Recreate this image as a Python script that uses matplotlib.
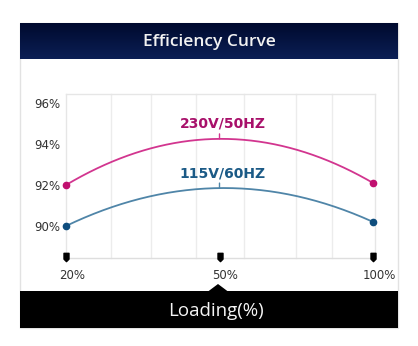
import numpy as np
import matplotlib
matplotlib.use("Agg")
import matplotlib.pyplot as plt
from matplotlib.path import Path
from matplotlib.patches import Rectangle, Polygon
from matplotlib.transforms import ScaledTranslation
from matplotlib.colors import LinearSegmentedColormap

# ---- data ----
load_labels = ["20%", "50%", "100%"]
eff_230 = [92.0, 94.25, 92.1]
eff_115 = [90.0, 91.85, 90.2]
series_names = ["230V/50HZ", "115V/60HZ"]
y_ticks = [90, 92, 94, 96]
title = "Efficiency Curve"
xlabel = "Loading(%)"

W, H = 418, 346
fig = plt.figure(figsize=(W / 100, H / 100), dpi=100)
fig.patch.set_facecolor("white")

# background / frame in pixel coordinates
bg = fig.add_axes([0, 0, 1, 1], zorder=0)
bg.set_xlim(0, W)
bg.set_ylim(H, 0)
bg.axis("off")

L, R, T, B = 20, 398, 23, 328
bg.add_patch(Rectangle((L, T), R - L, B - T, facecolor="white", edgecolor="#e2e2e2", lw=1))
# title bar gradient
grad = np.linspace(0, 1, 64).reshape(-1, 1)
cmap = LinearSegmentedColormap.from_list("nav", ["#000a2e", "#0b1f55"])
bg.imshow(grad, extent=(L, R, 59, T), cmap=cmap, aspect="auto", zorder=1)
bg.text((L + R) / 2, 41.5, title, color="#f2f2f2", ha="center", va="center",
        fontsize=12.5, fontweight="semibold", family=["Open Sans", "DejaVu Sans"], zorder=2)
# bottom bar
bg.add_patch(Rectangle((L, 291), R - L, B - 291, facecolor="black", edgecolor="none", zorder=1))
bg.add_patch(Polygon([(208, 291.5), (218, 284), (228, 291.5)], closed=True,
                     facecolor="black", edgecolor="none", zorder=1))
bg.text(216, 311, xlabel, color="#f5f5f5", ha="center", va="center",
        fontsize=13.5, family=["Open Sans", "DejaVu Sans"], zorder=2)

# vertical light grid lines (decorative)
for gx in [111, 151, 196, 244, 296, 332]:
    bg.plot([gx, gx], [94, 258], color="#ececec", lw=1, zorder=1)

# ---- plot axes ----
pl, pr, pt, pb = 66, 375, 94, 258
ax = fig.add_axes([pl / W, (H - pb) / H, (pr - pl) / W, (pb - pt) / H], zorder=2)
ax.set_facecolor("none")
x = np.arange(len(load_labels))
x_end = 2 + 2 * (pr - 373) / (373 - pl)
ax.set_xlim(0, x_end)
ppp = 20.5  # px per percent
y0 = 90 - (pb - 226) / ppp
y1 = 90 + (226 - pt) / ppp
ax.set_ylim(y0, y1)

for s in ["top", "left", "right"]:
    ax.spines[s].set_color("#e6e6e6")
    ax.spines[s].set_linewidth(1)
ax.spines["bottom"].set_color("#dedede")
ax.spines["bottom"].set_linewidth(1)

ax.set_yticks(y_ticks)
ax.set_yticklabels([f"{v}%" for v in y_ticks])
ax.tick_params(axis="y", length=0, pad=4, labelsize=8.5, labelcolor="#333333")
ax.set_xticks(x)
ax.set_xticklabels(load_labels)
ax.tick_params(axis="x", length=0, pad=8, labelsize=8.5, labelcolor="#333333")
for lab in ax.get_xticklabels():
    lab.set_transform(lab.get_transform() + ScaledTranslation(6 / 100, 0, fig.dpi_scale_trans))

# tick pin markers
pin = Path([(-0.3, 0.5), (0.3, 0.5), (0.3, -0.2), (0, -0.5), (-0.3, -0.2), (-0.3, 0.5)],
           [Path.MOVETO, Path.LINETO, Path.LINETO, Path.LINETO, Path.LINETO, Path.CLOSEPOLY])
ax.plot(x, [y0 + 1 / ppp] * len(x), linestyle="none", marker=pin, markersize=6,
        color="black", clip_on=False, zorder=5)

styles = [
    dict(line="#d2358f", mark="#c0106f", text="#a8106a"),
    dict(line="#4f85a8", mark="#0e4d7d", text="#1b5a86"),
]
xs = np.linspace(0, 2, 200)
for vals, name, st in zip([eff_230, eff_115], series_names, styles):
    coef = np.polyfit(x, vals, 2)
    ys = np.polyval(coef, xs)
    ax.plot(xs, ys, color=st["line"], lw=1.3, zorder=3, clip_on=False)
    ax.plot(x[[0, 2]], np.array(vals)[[0, 2]], linestyle="none", marker="o",
            markersize=4.5, color=st["mark"], zorder=4, clip_on=False)
    pk = vals[1]
    ax.annotate("", xy=(1, pk), xytext=(0, 5), textcoords="offset pixels",
                arrowprops=dict(arrowstyle="-", color=st["line"], lw=1.0, shrinkA=0, shrinkB=0))
    ax.annotate(name, xy=(1, pk), xytext=(3, 15), textcoords="offset pixels",
                ha="center", va="center", fontsize=10, fontweight="bold", color=st["text"])

fig.savefig("out.png", dpi=100)
